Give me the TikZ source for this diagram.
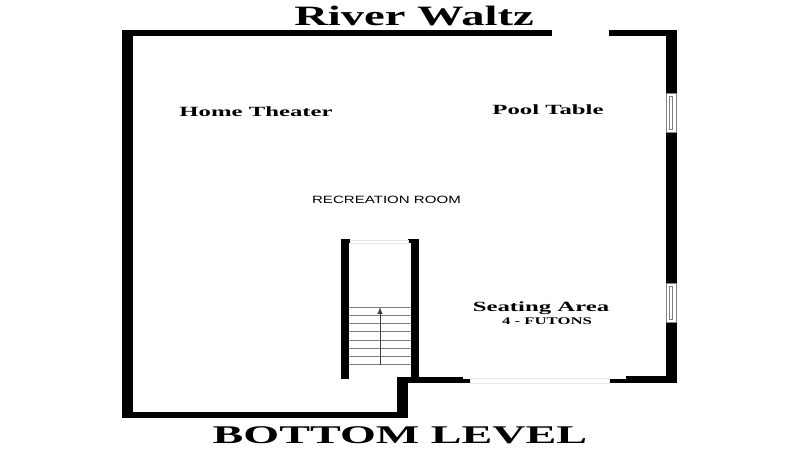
\documentclass[tikz,border=0pt]{standalone}
\usepackage{fontspec}
\setmainfont{Liberation Serif}
\setsansfont{Liberation Sans}
\tikzset{
  wall/.style={fill=black,draw=none},
  pane/.style={draw=black!50,line width=0.35pt,fill=white},
  opening/.style={draw=black!10,line width=0.4pt,fill=white},
  tread/.style={draw=black!50,line width=0.35pt},
  bigtitle/.style={font=\bfseries\fontsize{14.5}{15}\selectfont,inner sep=0pt},
  roomlabel/.style={font=\bfseries\fontsize{8}{9}\selectfont,inner sep=0pt,xscale=1.76},
}
\begin{document}
\begin{tikzpicture}[>=latex,x=0.02cm,y=-0.02cm]
  \useasboundingbox (0,0) rectangle (800,450);
  % outer walls
  \draw[wall] (122,30) rectangle (133,418);
  \draw[wall] (122,30) rectangle (552,36);
  \draw[wall] (609,30) rectangle (677,36);
  \draw[wall] (666,30) rectangle (677,383);
  \draw[wall] (122,412) rectangle (408,418);
  \draw[wall] (397,377) rectangle (408,418);
  \draw[wall] (397,377) rectangle (463,383);
  \draw[wall] (463,379) rectangle (470,383);
  \draw[wall] (609,379) rectangle (626,383);
  \draw[wall] (626,376) rectangle (677,383);
  % stair walls
  \draw[wall] (341,239) rectangle (349,379);
  \draw[wall] (349,239) rectangle (350,243);
  \draw[wall] (411,239) rectangle (419,378);
  \draw[wall] (408,239) rectangle (411,243);
  \draw[opening] (350,240) rectangle (408,243);
  \draw[opening] (470,378.5) rectangle (609,383);
  % windows
  \foreach \wy in {93,283} {
    \draw[pane] (666.5,\wy) rectangle ++(10,39.5);
    \draw[pane] (669.5,\wy+3) rectangle ++(3,33.5);
  }
  % stairs
  \foreach \sy in {307.3,315.3,323.7,331.7,340,348.3,356.3,364.7}
    \draw[tread] (349,\sy) -- (411,\sy);
  \coordinate (stairlow) at (380,364.7);
  \coordinate (stairtop) at (380,307);
  \draw[->,tread,draw=black!75] (stairlow) -- (stairtop);
  % labels
  \node[bigtitle,xscale=1.83,yscale=1.1] (rivertitle) at (414,15.5) {River Waltz};
  \node[bigtitle,xscale=1.81] (leveltitle) at (400,435) {BOTTOM LEVEL};
  \node[roomlabel] (theater) at (256,112) {Home Theater};
  \node[roomlabel] (pool) at (548,110) {Pool Table};
  \node[roomlabel] (seating) at (541,308) {Seating Area};
  \node[font=\bfseries\fontsize{5.8}{7}\selectfont,inner sep=0pt,xscale=1.64] (futons) at (547,321) {4 - FUTONS};
  \node[font=\sffamily\fontsize{6}{7}\selectfont,inner sep=0pt,xscale=1.43] (recroom) at (386.5,200) {RECREATION ROOM};
\end{tikzpicture}
\end{document}
